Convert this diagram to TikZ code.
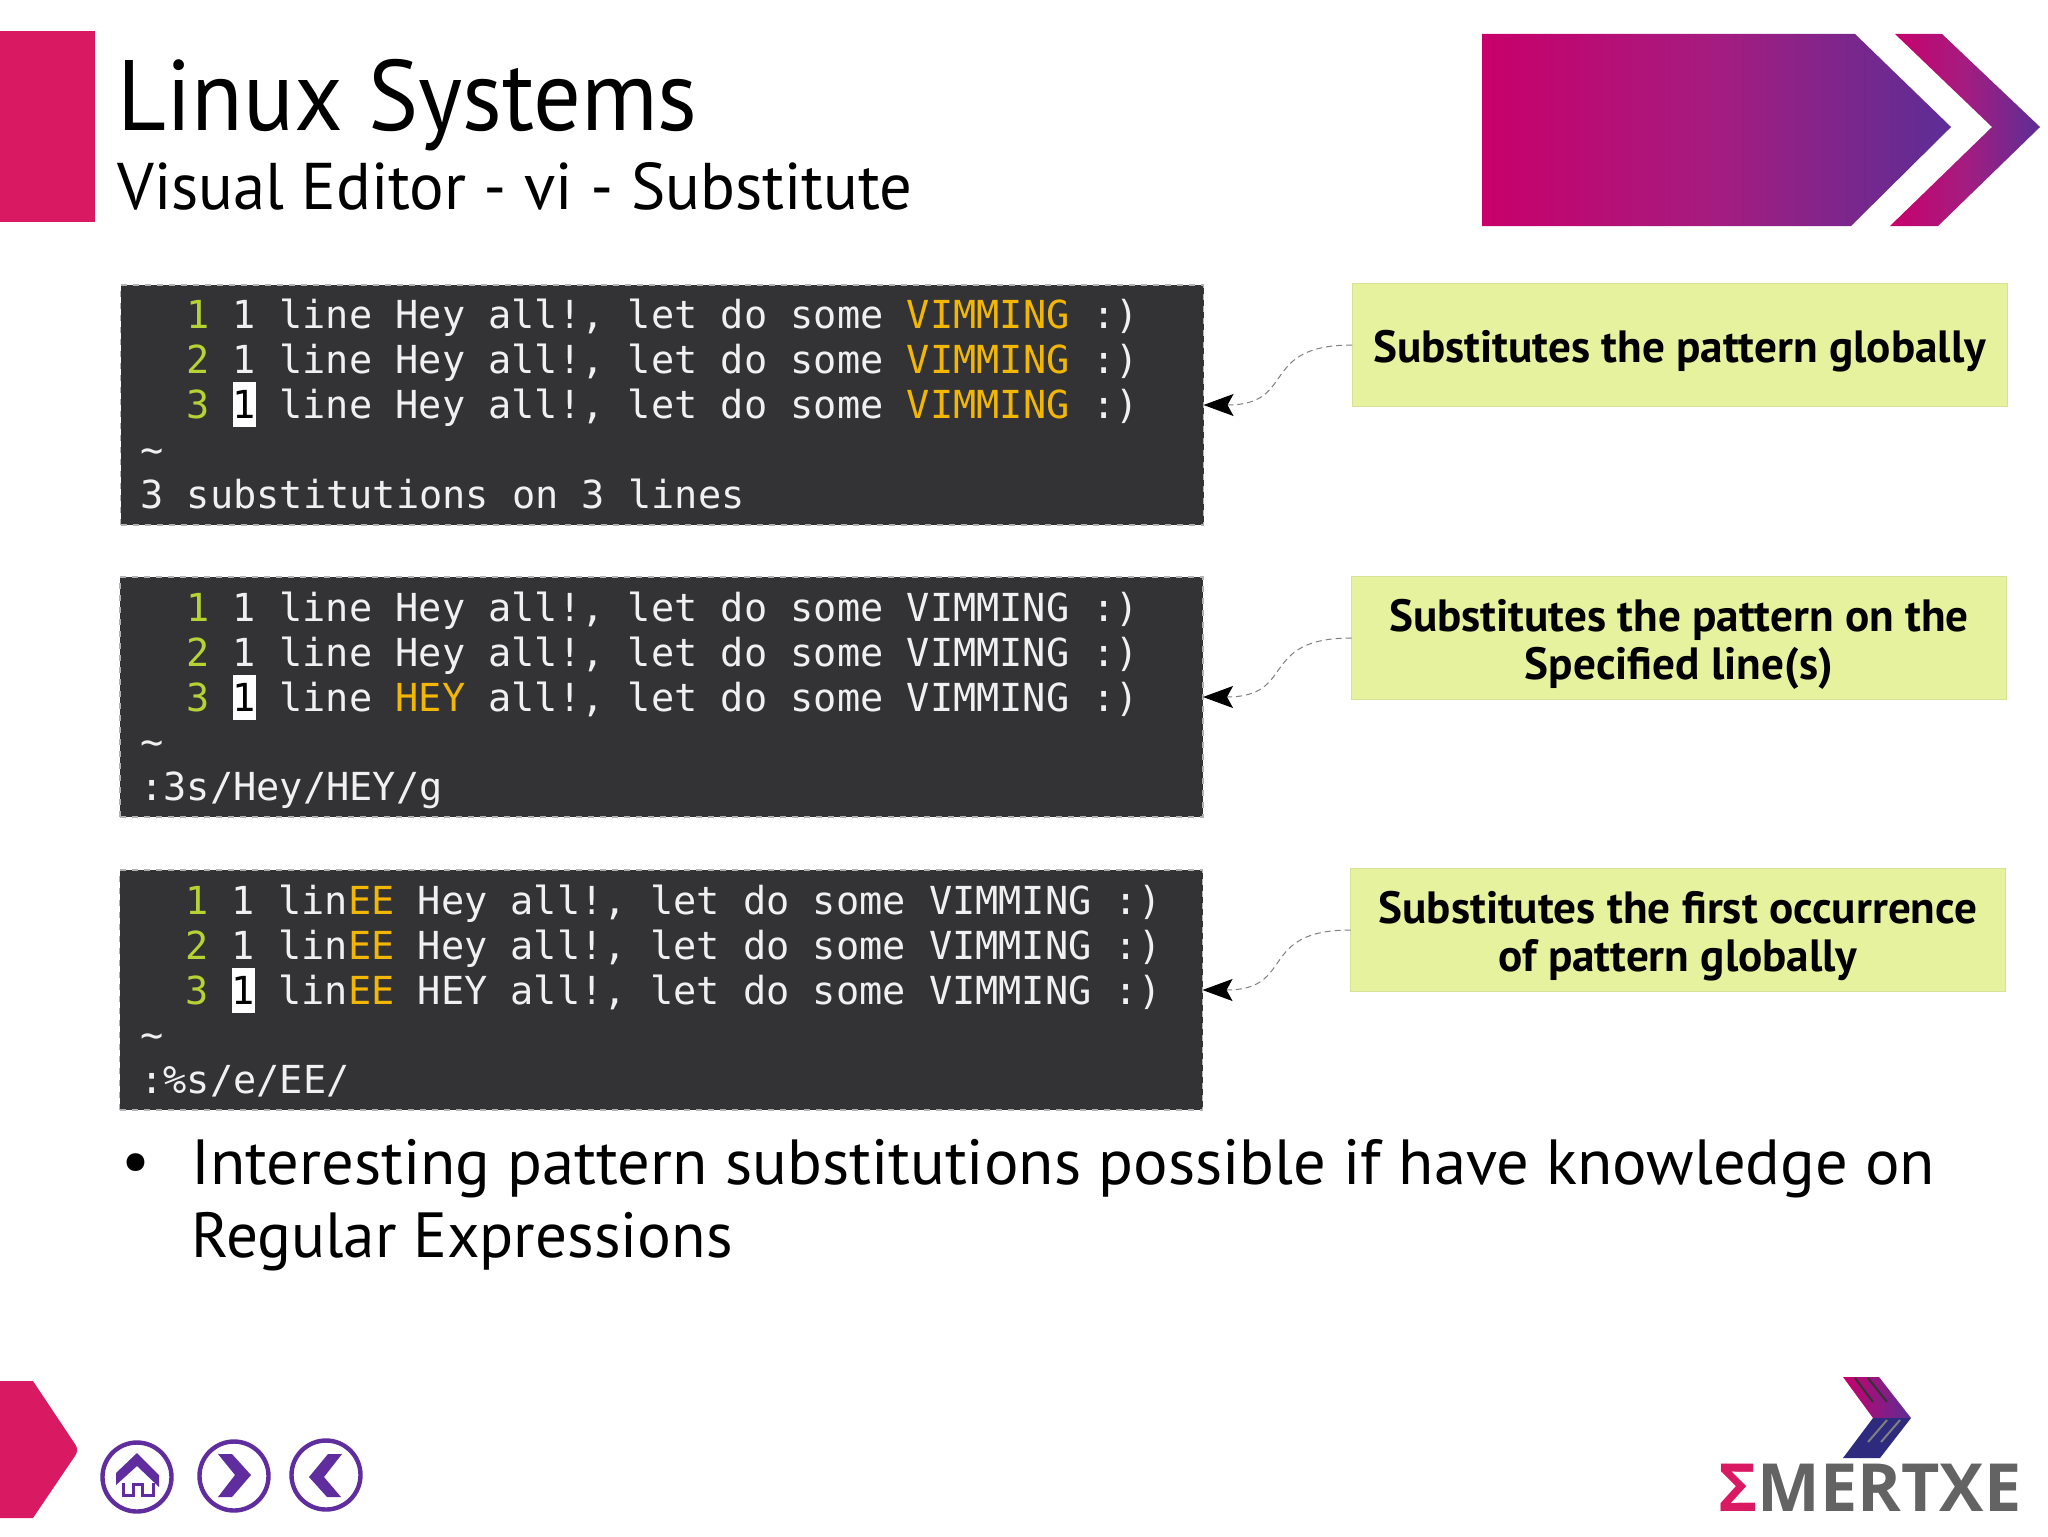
\documentclass[tikz,border=0pt]{standalone}
\usepackage{fontspec}
\setmainfont{PT Sans}
\newfontfamily\vimfont{DejaVu Sans Mono}
\newfontfamily\logofont{Open Sans}
\usetikzlibrary{arrows.meta}
\definecolor{slidepink}{HTML}{D91A63}
\definecolor{navpurple}{HTML}{5F2D9E}
\definecolor{bannerpink}{HTML}{C9006B}
\definecolor{bannermid}{HTML}{A51C80}
\definecolor{bannerend}{HTML}{5B2E96}
\definecolor{logonavy}{HTML}{2E2A7E}
\definecolor{termbg}{HTML}{333234}
\definecolor{termtxt}{HTML}{F0F0F0}
\definecolor{vimgreen}{HTML}{B5D334}
\definecolor{vimgold}{HTML}{F2B705}
\definecolor{notelime}{HTML}{E6F29D}
\definecolor{logogrey}{HTML}{636363}
\newcommand{\vimhi}[1]{\textcolor{vimgold}{#1}}
\newcommand{\vimnum}[1]{\textcolor{vimgreen}{#1}}
\newcommand{\vimcur}{\makebox[0pt][l]{\textcolor{white}{\rule[-4.5pt]{11.6pt}{22.5pt}}}\textcolor{black}{1}}
\newcommand{\shortdash}{\scalebox{.55}[1]{–}}
\newcommand{\notelift}{\rule{0pt}{22pt}}
\tikzset{
  termbox/.style={draw=gray!60,dashed,line width=.6pt,fill=termbg,minimum width=541.5pt,minimum height=120pt,inner sep=0pt,outer sep=0pt},
  termline/.style={anchor=base west,inner sep=0pt,text=termtxt,font=\fontsize{19.3}{22.5}\vimfont},
  notebox/.style={fill=notelime,draw=notelime!85!gray,line width=.3pt,minimum width=327.5pt,minimum height=61.5pt,inner sep=0pt,outer sep=0pt,align=center,font=\fontsize{22.6}{24}\selectfont\bfseries},
  noteline/.style={densely dashed,gray,line width=.5pt,-{Stealth[length=15pt,width=11pt,black,inset=3pt]}},
  navring/.style={circle,draw=navpurple,line width=2.2pt,minimum size=34.5pt,inner sep=0pt},
  navicon/.style={fill=navpurple,draw=none},
  bannershade/.style={left color=bannerpink,right color=bannerend,middle color=bannermid},
  slidetext/.style={anchor=base west,inner sep=0pt,font=\fontsize{31.9}{36}\selectfont}
}
\begin{document}
\begin{tikzpicture}[x=0.5pt,y=-0.5pt]
\useasboundingbox (0,0) rectangle (2048,1536);
\fill[white] (0,0) rectangle (2048,1536);
% title
\fill[slidepink] (0,31) rectangle (95,222);
\node[anchor=base west,inner sep=0pt,font=\fontsize{50}{55}\selectfont] (title) at (117,131) {\scalebox{.945}[1]{Linux Systems}};
\node[anchor=base west,inner sep=0pt,font=\fontsize{33}{38}\selectfont] (subtitle) at (117,209) {\scalebox{.98}[1]{Visual Editor \shortdash{} vi \shortdash{} Substitute}};
% banner
\shade[bannershade] (1482,34) -- (1855,34) -- (1951,127) -- (1851,226) -- (1482,226) -- cycle;
\shade[bannershade] (1895,34) -- (1942,34) -- (2040,127) -- (1938,226) -- (1890,226) -- (1992,127) -- cycle;
% vim screens
\foreach \s/\x/\y in {1/662/0,2/661.5/292,3/661/585} {
  \node[termbox] (term\s) at (\x,405+\y) {};
}
\foreach \n in {1,2,3} {
  \node[termline] (a\n) at (186,283+45*\n) {\vimnum{\n} \ifnum\n=3 \vimcur\else 1\fi{} line Hey all!, let do some \vimhi{VIMMING} :)};
  \node[termline] (b\n) at (186,576+45*\n) {\vimnum{\n} \ifnum\n=3 \vimcur\else 1\fi{} line \ifnum\n=3 \vimhi{HEY}\else Hey\fi{} all!, let do some VIMMING :)};
  \node[termline] (c\n) at (185,869+45*\n) {\vimnum{\n} \ifnum\n=3 \vimcur\else 1\fi{} lin\vimhi{EE} \ifnum\n=3 HEY\else Hey\fi{} all!, let do some VIMMING :)};
}
\foreach \s/\y/\cmd in {1/0/{3 substitutions on 3 lines},2/292/{:3s/Hey/HEY/g},3/585/{:\%s/e/EE/}} {
  \node[termline] (tilde\s) at (140,463+\y) {\textasciitilde};
  \node[termline] (cmd\s) at (140,508+\y) {\cmd};
}
% notes
\node[notebox] (note1) at (1679.5,345) {\notelift Substitutes the pattern globally};
\node[notebox] (note2) at (1679,638) {\notelift Substitutes the pattern on the\\Specified line(s)};
\node[notebox] (note3) at (1678,930) {\notelift Substitutes the first occurrence\\of pattern globally};
\foreach \s in {1,2,3} {
  \draw[noteline] (note\s.west) to[out=180,in=0,looseness=1.5] (term\s.east);
}
% bullet
\node[inner sep=0pt,font=\fontsize{32}{36}\selectfont] (dot) at (136,1168) {•};
\node[slidetext] (line1) at (191,1184) {\scalebox{1.012}[1]{Interesting pattern substitutions possible if have knowledge on}};
\node[slidetext] (line2) at (191,1257) {\scalebox{.99}[1]{Regular Expressions}};
% footer
\fill[slidepink] (-20,1381) -- (33,1381) [rounded corners=3pt] -- (79,1450) [sharp corners] -- (33,1518) -- (-20,1518) -- cycle;
\node[navring] (home) at (137,1477) {};
\node[navring] (next) at (234,1476) {};
\node[navring] (prev) at (326,1475) {};
\fill[navicon] (137,1453) -- (159,1475) -- (159,1487) -- (137,1466) -- (116,1485) -- (116,1473) -- cycle;
\draw[navpurple,line width=1.5pt] (123,1483) -- (123,1495) -- (133,1495) -- (133,1484) -- (142,1484) -- (142,1495) -- (153,1495) -- (153,1483);
\fill[navicon] (218,1454) -- (232,1454) -- (251,1475) -- (232,1497) -- (218,1497) -- (235,1475) -- cycle;
\fill[navicon] (342,1454) -- (328,1454) -- (309,1477) -- (327,1497) -- (341,1497) -- (324,1477) -- cycle;
% logo
\shade[left color=bannerpink,right color=bannerend] (1843,1377) -- (1879,1377) -- (1911,1418) -- (1873,1418) -- cycle;
\fill[logonavy] (1873,1418) -- (1911,1418) -- (1880,1458) -- (1843,1458) -- cycle;
\draw[black!80,line width=1pt] (1855,1378) -- (1873,1402) (1868,1378) -- (1887,1402);
\draw[gray,line width=1pt] (1887,1420) -- (1868,1442) (1900,1420) -- (1881,1442);
\node[anchor=base west,inner sep=0pt,text=logogrey,font=\fontsize{33.2}{36}\logofont\bfseries] (logo) at (1718,1511) {\textcolor{slidepink}{Σ}MERTXE};
\end{tikzpicture}
\end{document}
